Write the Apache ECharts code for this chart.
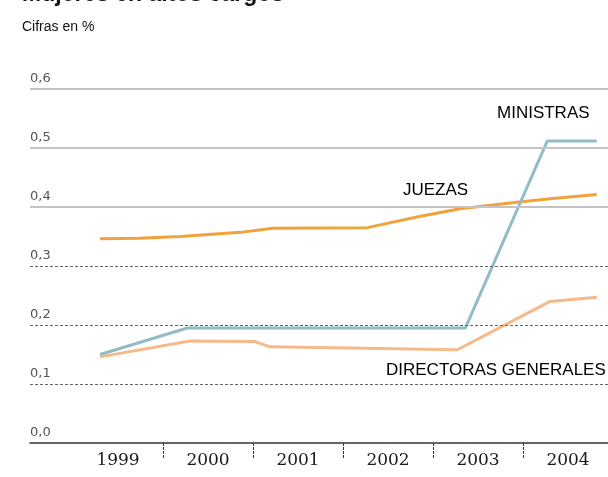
<!DOCTYPE html>
<html>
<head>
<meta charset="utf-8">
<script src="https://cdn.jsdelivr.net/npm/echarts@6/dist/echarts.min.js"></script>
<style>
html,body{margin:0;padding:0;background:#fff;}
#chart{width:608px;height:477px;}
</style>
</head>
<body>
<div id="chart"></div>
<script>
// ---- data ----
var yearLabels = [1999, 2000, 2001, 2002, 2003, 2004];
var yearTicks = [1999.5, 2000.5, 2001.5, 2002.5, 2003.5];
var yTicks = [0, 0.1, 0.2, 0.3, 0.4, 0.5, 0.6];

var ministrasYears  = [1998.80, 1999.77, 2002.86, 2003.77, 2004.32];
var ministrasValues = [0.150, 0.195, 0.195, 0.512, 0.512];

var juezasYears  = [1998.80, 1999.24, 1999.69, 2000.36, 2000.72, 2001.77, 2002.32, 2002.80, 2003.43, 2003.80, 2004.32];
var juezasValues = [0.346, 0.347, 0.350, 0.357, 0.364, 0.365, 0.383, 0.397, 0.408, 0.414, 0.421];

var directorasYears  = [1998.80, 1999.80, 2000.52, 2000.69, 2002.77, 2003.80, 2004.32];
var directorasValues = [0.146, 0.173, 0.172, 0.163, 0.158, 0.240, 0.247];

var seriesNames = ['MINISTRAS', 'JUEZAS', 'DIRECTORAS GENERALES'];

function pairs(xs, ys){ return xs.map(function(x,i){ return [x, ys[i]]; }); }

var chart = echarts.init(document.getElementById('chart'), null, {renderer:'canvas'});

var gridLines = yTicks.filter(function(v){return v>0;}).map(function(v){
  return v <= 0.3
    ? {yAxis: v, lineStyle:{type:[3,2], color:'#666', width:1}}
    : {yAxis: v, lineStyle:{type:'solid', color:'#c4c4c4', width:2}};
});

var labelFont = '"Liberation Sans", Arial, sans-serif';

chart.setOption({
  animation:false,
  backgroundColor:'#fff',
  grid:{left:30, right:0, top:89, bottom:34},
  xAxis:{
    type:'value', min:1998.022, max:2004.444,
    splitLine:{show:false},
    axisLine:{show:true, onZero:false, lineStyle:{color:'#333', width:1.5, type:[3,1]}},
    axisTick:{show:true, customValues:yearTicks, length:15, lineStyle:{color:'#333', width:1, type:[3,1]}},
    axisLabel:{show:true, customValues:yearLabels, margin:9, color:'#1a1a1a',
      fontFamily:'"DejaVu Serif", serif', fontSize:17,
      formatter:function(v){return String(Math.round(v));}}
  },
  yAxis:{
    type:'value', min:0, max:0.6, interval:0.1,
    splitLine:{show:false}, axisLine:{show:false}, axisTick:{show:false},
    axisLabel:{inside:true, margin:0, align:'left', verticalAlign:'bottom', padding:[0,0,4,0],
      color:'#555', fontFamily:'"DejaVu Sans", sans-serif', fontSize:13,
      formatter:function(v){return v.toFixed(1).replace('.', ',');}}
  },
  graphic:[
    {type:'text', left:22, top:-17, style:{text:'Mujeres en altos cargos', fill:'#111',
      font:'bold 23px "Liberation Sans", Arial, sans-serif'}},
    {type:'text', left:22, top:20, style:{text:'Cifras en %', fill:'#111',
      font:'14px "Liberation Sans", Arial, sans-serif'}},
    {type:'text', left:497, top:105, style:{text:seriesNames[0], fill:'#000', font:'17px '+labelFont}},
    {type:'text', left:403, top:182, style:{text:seriesNames[1], fill:'#000', font:'17px '+labelFont}},
    {type:'text', left:386, top:362, style:{text:seriesNames[2], fill:'#000', font:'17px '+labelFont}}
  ],
  series:[
    {type:'line', name:'grid', data:[], silent:true,
      markLine:{silent:true, symbol:'none', label:{show:false}, animation:false, data:gridLines}},
    {type:'line', name:seriesNames[1], data:pairs(juezasYears, juezasValues), showSymbol:false,
      lineStyle:{color:'#f1a23a', width:3}, z:3},
    {type:'line', name:seriesNames[2], data:pairs(directorasYears, directorasValues), showSymbol:false,
      lineStyle:{color:'#f6b98a', width:3}, z:3},
    {type:'line', name:seriesNames[0], data:pairs(ministrasYears, ministrasValues), showSymbol:false,
      lineStyle:{color:'#92bcc6', width:3}, z:4}
  ]
});
</script>
</body>
</html>
